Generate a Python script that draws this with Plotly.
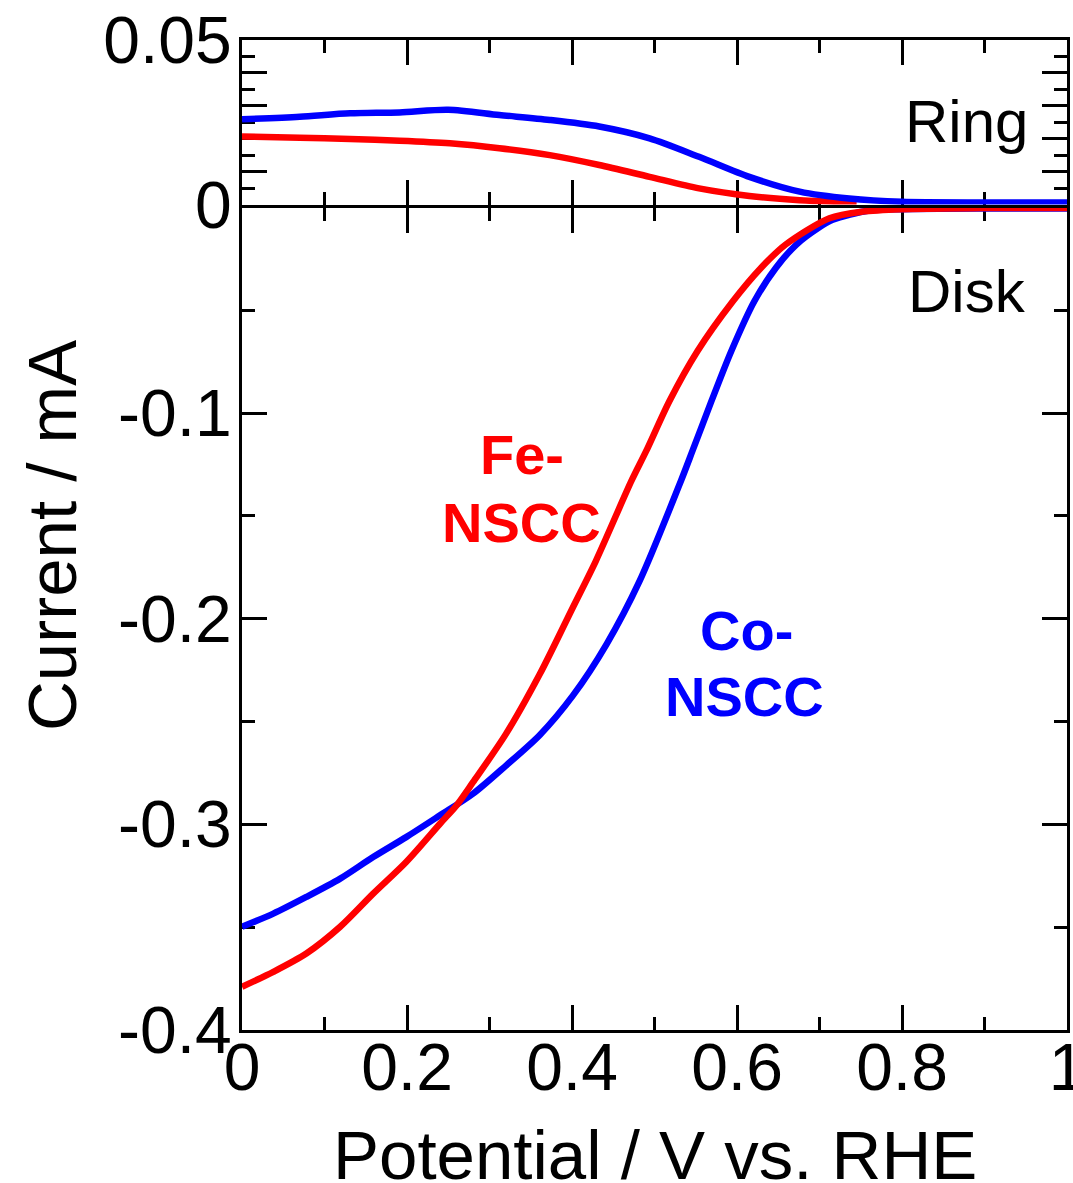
import plotly.graph_objects as go

# Rotating ring-disk electrode LSV data (disk and ring currents vs. potential)
potential_fe_disk = [0.000, 0.038, 0.078, 0.119, 0.159, 0.199, 0.240, 0.260, 0.280, 0.320,
                     0.361, 0.401, 0.429, 0.472, 0.490, 0.518, 0.552, 0.595, 0.629, 0.659,
                     0.712, 0.752, 0.800, 0.900, 1.000]
current_fe_disk = [-0.3790, -0.3717, -0.3628, -0.3498, -0.3337, -0.3183, -0.2997, -0.2908,
                   -0.2795, -0.2560, -0.2269, -0.1945, -0.1718, -0.1330, -0.1184, -0.0942,
                   -0.0699, -0.0456, -0.0294, -0.0180, -0.0052, -0.0020, -0.0008, -0.0003,
                   -0.0002]

potential_co_disk = [0.000, 0.038, 0.078, 0.119, 0.159, 0.199, 0.240, 0.280, 0.320, 0.361,
                     0.401, 0.442, 0.482, 0.532, 0.546, 0.569, 0.593, 0.621, 0.647, 0.672,
                     0.698, 0.716, 0.760, 0.800, 0.900, 1.000]
current_co_disk = [-0.3498, -0.3434, -0.3353, -0.3264, -0.3159, -0.3062, -0.2956, -0.2851,
                   -0.2714, -0.2565, -0.2374, -0.2123, -0.1816, -0.1330, -0.1184, -0.0942,
                   -0.0699, -0.0456, -0.0294, -0.0180, -0.0101, -0.0060, -0.0015, -0.0008,
                   -0.0005, -0.0005]

potential_co_ring = [0.000, 0.070, 0.131, 0.191, 0.250, 0.312, 0.373, 0.433, 0.494, 0.554,
                     0.615, 0.676, 0.736, 0.800, 0.900, 1.000]
current_co_ring = [0.0259, 0.0267, 0.0277, 0.0280, 0.0288, 0.0272, 0.0257, 0.0237, 0.0201,
                   0.0145, 0.0084, 0.0039, 0.0018, 0.0008, 0.0006, 0.0006]

potential_fe_ring = [0.000, 0.070, 0.131, 0.191, 0.252, 0.312, 0.373, 0.433, 0.494, 0.554,
                     0.615, 0.676, 0.745]
current_fe_ring = [0.0207, 0.0203, 0.0199, 0.0194, 0.0186, 0.0171, 0.0150, 0.0120, 0.0084,
                   0.0049, 0.0026, 0.0013, 0.0006]

x_ticks = [0, 0.2, 0.4, 0.6, 0.8, 1.0]
x_tick_text = ["0", "0.2", "0.4", "0.6", "0.8", "1"]
x_minor = [0.1, 0.3, 0.5, 0.7, 0.9]
disk_ticks = [-0.4, -0.3, -0.2, -0.1, 0.0]
disk_tick_text = ["-0.4", "-0.3", "-0.2", "-0.1", ""]
disk_minor = [-0.35, -0.25, -0.15, -0.05]
ring_ticks = [0.0, 0.01, 0.02, 0.03, 0.04, 0.05]
ring_tick_text = ["0", "", "", "", "", "0.05"]
ring_minor = [0.005, 0.015, 0.025, 0.035, 0.045]

RED = "#ff0000"
BLUE = "#0000ff"
FONT = "Liberation Sans, Arial, sans-serif"
LW = 6.5

fig = go.Figure()
# ring panel (upper)
fig.add_trace(go.Scatter(x=potential_fe_ring, y=current_fe_ring, mode="lines",
                         line=dict(color=RED, width=LW, shape="spline", smoothing=0.8),
                         xaxis="x2", yaxis="y2", showlegend=False))
fig.add_trace(go.Scatter(x=potential_co_ring, y=current_co_ring, mode="lines",
                         line=dict(color=BLUE, width=LW, shape="spline", smoothing=0.8),
                         xaxis="x2", yaxis="y2", showlegend=False))
# disk panel (lower)
fig.add_trace(go.Scatter(x=potential_co_disk, y=current_co_disk, mode="lines",
                         line=dict(color=BLUE, width=LW, shape="spline", smoothing=0.8),
                         xaxis="x", yaxis="y", showlegend=False))
fig.add_trace(go.Scatter(x=potential_fe_disk, y=current_fe_disk, mode="lines",
                         line=dict(color=RED, width=LW, shape="spline", smoothing=0.8),
                         xaxis="x", yaxis="y", showlegend=False))

# the two panels share one boundary line: overlap their domains by the line width
disk_top = (1030 - 207.5) / 990.0
ring_bottom = (1030 - 204.5) / 990.0

axis_common = dict(showline=True, linewidth=3, linecolor="black", mirror="ticks",
                   ticks="inside", ticklen=25, tickwidth=3, tickcolor="black",
                   showgrid=False, zeroline=False, layer="below traces",
                   ticklabeloverflow="allow", automargin=False,
                   tickfont=dict(family=FONT, size=66, color="black"))

fig.update_layout(
    width=1073, height=1183,
    margin=dict(l=242, r=6, t=40, b=153, autoexpand=False),
    paper_bgcolor="white", plot_bgcolor="white",
    font=dict(family=FONT, color="black"),
    xaxis=dict(domain=[0, 1], range=[0, 1], anchor="y", tickmode="array",
               tickvals=x_ticks, ticktext=x_tick_text, ticklabelstandoff=-22,
               minor=dict(tickvals=x_minor, ticks="inside", ticklen=13, tickwidth=3,
                          tickcolor="black"),
               **axis_common),
    xaxis2=dict(domain=[0, 1], range=[0, 1], anchor="y2", matches="x", tickmode="array",
                tickvals=x_ticks, showticklabels=False,
                minor=dict(tickvals=x_minor, ticks="inside", ticklen=13, tickwidth=3,
                           tickcolor="black"),
                **axis_common),
    yaxis=dict(domain=[0, disk_top], range=[-0.4, 0], anchor="x", tickmode="array",
               tickvals=disk_ticks, ticktext=disk_tick_text, ticklabelstandoff=-6,
               minor=dict(tickvals=disk_minor, ticks="inside", ticklen=13, tickwidth=3,
                          tickcolor="black"),
               **axis_common),
    yaxis2=dict(domain=[ring_bottom, 1], range=[0, 0.05], anchor="x2", tickmode="array",
                tickvals=ring_ticks, ticktext=ring_tick_text, ticklabelstandoff=-6,
                minor=dict(tickvals=ring_minor, ticks="inside", ticklen=13, tickwidth=3,
                           tickcolor="black"),
                **axis_common),
)

def px_x(px):
    return (px - 242) / 825.0

def px_y(py):
    return (1030 - py) / 990.0

annotations = [
    dict(text="Potential / V vs. RHE", x=0.5, y=px_y(1155), size=69, bold=False,
         color="black", xanchor="center", angle=0),
    dict(text="Current / mA", x=px_x(52), y=px_y(536), size=69, bold=False,
         color="black", xanchor="center", angle=-90),
    dict(text="Ring", x=px_x(1030), y=px_y(122), size=60, bold=False,
         color="black", xanchor="right", angle=0),
    dict(text="Disk", x=px_x(1028), y=px_y(291), size=60, bold=False,
         color="black", xanchor="right", angle=0),
    dict(text="Fe-", x=px_x(522), y=px_y(454), size=56, bold=True,
         color=RED, xanchor="center", angle=0),
    dict(text="NSCC", x=px_x(521), y=px_y(522), size=56, bold=True,
         color=RED, xanchor="center", angle=0),
    dict(text="Co-", x=px_x(746), y=px_y(630), size=56, bold=True,
         color=BLUE, xanchor="center", angle=0),
    dict(text="NSCC", x=px_x(744), y=px_y(696), size=56, bold=True,
         color=BLUE, xanchor="center", angle=0),
]
for a in annotations:
    txt = "<b>%s</b>" % a["text"] if a["bold"] else a["text"]
    fig.add_annotation(text=txt, x=a["x"], y=a["y"], xref="paper", yref="paper",
                       xanchor=a["xanchor"], yanchor="middle", textangle=a["angle"],
                       showarrow=False,
                       font=dict(family=FONT, size=a["size"], color=a["color"]))

fig.write_html("out.html")
